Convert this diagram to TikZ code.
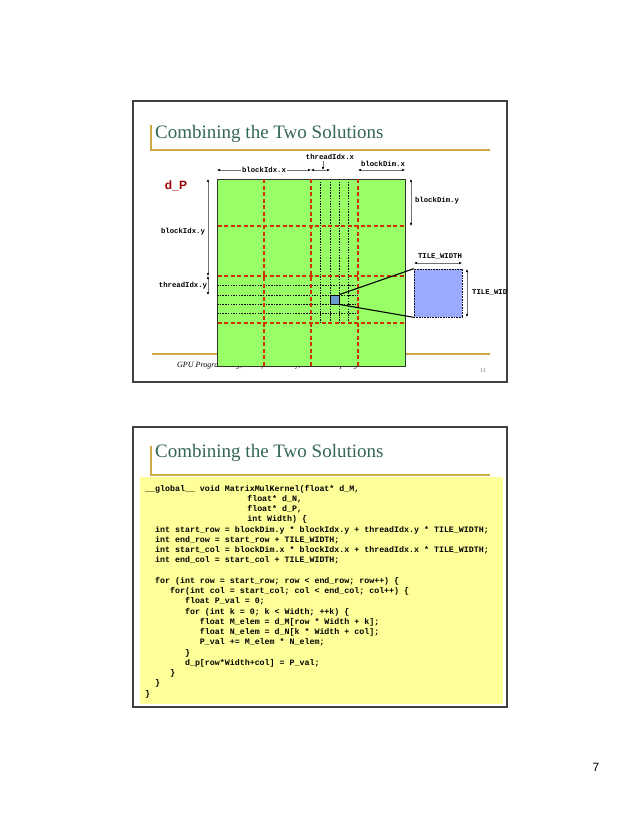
\documentclass[tikz,border=0pt]{standalone}
\usepackage{fontspec}
\setmainfont{Liberation Serif}
\setsansfont{Liberation Sans}
\setmonofont{Liberation Mono}
\usetikzlibrary{arrows.meta, positioning}

\definecolor{titlegreen}{RGB}{51,102,85}
\definecolor{slidegold}{RGB}{204,170,68}
\definecolor{matgreen}{RGB}{153,255,102}
\definecolor{blockred}{RGB}{204,51,0}
\definecolor{cellblue}{RGB}{102,153,204}
\definecolor{tileblue}{RGB}{153,170,255}
\definecolor{codeyellow}{RGB}{255,255,153}
\definecolor{dpred}{RGB}{153,0,0}

\newlength{\chw}
\setlength{\chw}{4.98pt}
\newcommand{\ind}[1]{\hspace*{#1\chw}}

\begin{document}
\begin{tikzpicture}[
        x=1pt, y=-1pt,
        frame/.style={draw=black!75, line width=1.1pt},
        goldline/.style={draw=slidegold, line width=1.2pt},
        slidetitle/.style={anchor=base west, inner sep=0, text=titlegreen, font=\fontsize{19}{21}\selectfont},
        matbox/.style={draw=black!80, line width=1pt, fill=matgreen, inner sep=0, minimum width=188pt, minimum height=187pt},
        blockline/.style={blockred, line width=1.1pt, dash pattern=on 4pt off 2.5pt},
        threadline/.style={black, line width=0.6pt, dash pattern=on 1.5pt off 1.2pt},
        dim/.style={black!55, line width=0.4pt, {Latex[length=3pt,width=2.4pt,black]}-{Latex[length=3pt,width=2.4pt,black]}},
        tip/.style={black!55, line width=0.4pt, -{Latex[length=3pt,width=2.4pt,black]}},
        dimlabel/.style={font=\ttfamily\bfseries\fontsize{7.3}{8}\selectfont, text=black, inner sep=1pt},
        footer/.style={font=\itshape\fontsize{8}{9}\selectfont, inner sep=0},
        zoomline/.style={black, line width=1.1pt}
    ]
    \useasboundingbox (0,0) rectangle (638,826);

    % Slide 1: the picture
    \draw[frame] (133,101) rectangle (507,382);
    \draw[goldline] (151,125) -- (151,150) -- (490,150);
    \node[slidetitle] (title1) at (155,139) {Combining the Two Solutions};
    \draw[goldline] (152,354) -- (490,354);
    \node[footer, anchor=base west] (foot1) at (177,367) {GPU Programming, Sharif University, Winter 08/Spring 09};
    \node[font=\fontsize{6}{7}\selectfont, text=black!60] (pg1) at (483,371) {11};

    % the matrix d_P
    \node[matbox, anchor=north west] (dP) at (217,179) {};
    \foreach \y in {285.4,294.8,304.2,313.6}
        \draw[threadline] (217,\y) -- (358,\y);
    \foreach \x in {320.4,329.8,339.2,348.6}
        \draw[threadline] (\x,179) -- (\x,323);
    \foreach \x in {264,311,358}
        \draw[blockline] (\x,179.5) -- (\x,365.5);
    \foreach \y in {226,276,323}
        \draw[blockline] (217.5,\y) -- (404.5,\y);
    \node[font=\sffamily\bfseries\fontsize{12}{14}\selectfont, text=dpred] (dPname) at (176,186) {d\_P};

    % one thread's tile
    \node[draw=black, line width=0.5pt, fill=cellblue, inner sep=0, minimum size=9.4pt] (cell) at (334.5,299.5) {};
    \node[draw=black, densely dotted, line width=0.6pt, fill=tileblue, inner sep=0, minimum size=48pt] (tile) at (438,293) {};
    \draw[zoomline] (cell.north east) -- (tile.north west);
    \draw[zoomline] (cell.south east) -- (tile.south west);

    % dimensions along x
    \coordinate (bxl) at (217,170);
    \coordinate (bxr) at (311,170);
    \coordinate (txr) at (330,170);
    \coordinate (txdown) at (323,170);
    \draw[dim] (bxl) -- node[dimlabel, fill=white] (bidxx) {blockIdx.x} (bxr);
    \draw[dim] (bxr) -- (txr);
    \node[dimlabel] (tidxx) at (330,157) {threadIdx.x};
    \draw[tip] (tidxx.south -| txdown) -- (txdown);
    \coordinate (bdxl) at (358,170);
    \coordinate (bdxr) at (405,170);
    \draw[dim] (bdxl) -- (bdxr);
    \node[dimlabel] (bdimx) at (383,164) {blockDim.x};

    % dimensions along y
    \coordinate (bdyt) at (411,179);
    \coordinate (bdyb) at (411,226);
    \draw[dim] (bdyt) -- (bdyb);
    \node[dimlabel] (bdimy) at (437,201) {blockDim.y};
    \coordinate (byt) at (208,179);
    \coordinate (byb) at (208,276);
    \coordinate (tyb) at (208,295);
    \draw[dim] (byt) -- (byb);
    \draw[dim] (byb) -- (tyb);
    \node[dimlabel] (bidxy) at (183,232) {blockIdx.y};
    \node[dimlabel] (tidxy) at (183,286) {threadIdx.y};

    % tile size
    \coordinate (twl) at (414,263);
    \coordinate (twr) at (462,263);
    \draw[dim] (twl) -- (twr);
    \node[dimlabel] (twtop) at (440,256) {TILE\_WIDTH};
    \coordinate (twt) at (467,269);
    \coordinate (twb) at (467,317);
    \draw[dim] (twt) -- (twb);
    \begin{scope}
        \clip (133,101) rectangle (507,382);
        \node[dimlabel, anchor=west] (twright) at (471,292) {TILE\_WIDTH};
    \end{scope}

    % Slide 2: the code
    \draw[frame] (133,427) rectangle (507,707);
    \draw[goldline] (151,446) -- (151,475) -- (490,475);
    \node[slidetitle] (title2) at (155,457) {Combining the Two Solutions};
    \node[fill=codeyellow, inner sep=0, minimum width=363pt, minimum height=227pt, anchor=north west] (codebox) at (140,477) {};
    \node[anchor=north west, inner sep=0, align=left, font=\ttfamily\bfseries\fontsize{8.3}{10.26}\selectfont] (code) at (145,484.7) {%
\_\_global\_\_ void MatrixMulKernel(float* d\_M,\\
\ind{20.5}float* d\_N,\\
\ind{20.5}float* d\_P,\\
\ind{20.5}int Width) \{\\
\ind{2}int start\_row = blockDim.y * blockIdx.y + threadIdx.y * TILE\_WIDTH;\\
\ind{2}int end\_row = start\_row + TILE\_WIDTH;\\
\ind{2}int start\_col = blockDim.x * blockIdx.x + threadIdx.x * TILE\_WIDTH;\\
\ind{2}int end\_col = start\_col + TILE\_WIDTH;\\
\mbox{}\\
\ind{2}for (int row = start\_row; row < end\_row; row++) \{\\
\ind{5}for(int col = start\_col; col < end\_col; col++) \{\\
\ind{8}float P\_val = 0;\\
\ind{8}for (int k = 0; k < Width; ++k) \{\\
\ind{11}float M\_elem = d\_M[row * Width + k];\\
\ind{11}float N\_elem = d\_N[k * Width + col];\\
\ind{11}P\_val += M\_elem * N\_elem;\\
\ind{8}\}\\
\ind{8}d\_p[row*Width+col] = P\_val;\\
\ind{5}\}\\
\ind{2}\}\\
\}};

    % page number
    \node[font=\sffamily\fontsize{12}{14}\selectfont] (pagenum) at (596,767) {7};

\end{tikzpicture}
\end{document}
